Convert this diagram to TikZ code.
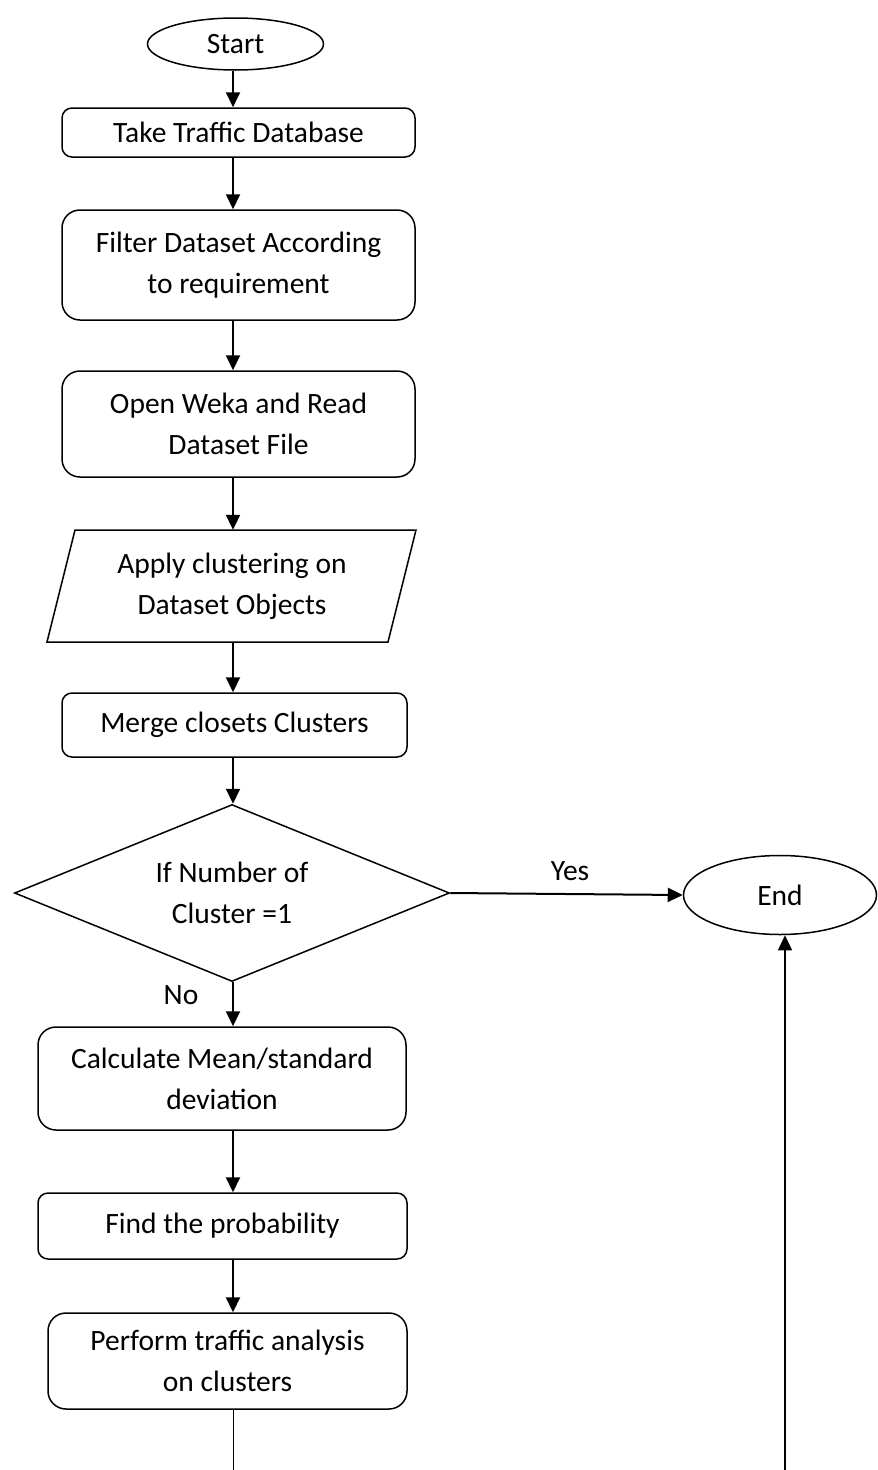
\documentclass[tikz,border=0pt]{standalone}
\usepackage{fontspec}
\setmainfont{Carlito}
\usetikzlibrary{shapes.geometric,arrows.meta}
\begin{document}
\begin{tikzpicture}[x=1pt,y=-1pt,
  every node/.style={font=\fontsize{29.5}{41}\selectfont},
  box/.style={draw,line width=1.5pt,rounded corners=10pt,inner sep=0pt,align=center},
  bigbox/.style={box,rounded corners=18pt},
  term/.style={draw,ellipse,line width=1.5pt,inner sep=0pt},
  arr/.style={line width=2pt,-{Triangle[length=15pt,width=14pt]}},
  lbl/.style={inner sep=0pt}]
\useasboundingbox (0,0) rectangle (878,1470);
\coordinate (axis) at (233,0);

\node[term,minimum width=176pt,minimum height=52pt] (start) at (235.5,44) {Start};
\node[box,minimum width=353pt,minimum height=49pt] (take) at (238.5,132.5) {Take Traffic Database};
\node[bigbox,minimum width=353pt,minimum height=110pt] (filter) at (238.5,265) {Filter Dataset According\\to requirement};
\node[bigbox,minimum width=353pt,minimum height=106pt] (weka) at (238.5,424) {Open Weka and Read\\Dataset File};
\node[lbl,minimum height=112pt,align=center] (apply) at (232,586) {Apply clustering on\\Dataset Objects};
\draw[line width=1.5pt] (75,530) -- (416,530) -- (388,642) -- (47,642) -- cycle;
\node[box,minimum width=345pt,minimum height=64pt] (merge) at (234.5,725) {Merge closets Clusters};
\node[draw,diamond,shape aspect=2.46,line width=1.5pt,inner sep=0pt,minimum width=435pt,minimum height=177pt,align=center] (dec) at (232,893) {If Number of\\Cluster =1};
\node[term,minimum width=193pt,minimum height=79pt] (end) at (780,895) {End};
\node[bigbox,minimum width=368pt,minimum height=103pt] (calc) at (222,1078.5) {Calculate Mean/standard\\deviation};
\node[box,minimum width=369pt,minimum height=66pt] (find) at (222.5,1226) {Find the probability};
\node[bigbox,minimum width=359pt,minimum height=96pt] (perf) at (227.5,1361) {Perform traffic analysis\\on clusters};

\node[lbl] (yes) at (570,871) {Yes};
\node[lbl] (no) at (181,995) {No};

\coordinate (bot1) at (233,1470);
\coordinate (bot2) at (785,1470);

\draw[arr] (start.south -| axis) -- (take.north -| axis);
\draw[arr] (take.south -| axis) -- (filter.north -| axis);
\draw[arr] (filter.south -| axis) -- (weka.north -| axis);
\draw[arr] (weka.south -| axis) -- (apply.north -| axis);
\draw[arr] (apply.south -| axis) -- (merge.north -| axis);
\draw[arr] (merge.south -| axis) -- (dec.north -| axis);
\draw[arr] (dec.east) -- (end.west);
\draw[arr] (dec.south -| axis) -- (calc.north -| axis);
\draw[arr] (calc.south -| axis) -- (find.north -| axis);
\draw[arr] (find.south -| axis) -- (perf.north -| axis);
\draw[line width=1pt] (perf.south -| axis) -- (bot1);
\draw[arr,line width=1.5pt] (bot2) -- (bot2 |- end.south);
\end{tikzpicture}
\end{document}
